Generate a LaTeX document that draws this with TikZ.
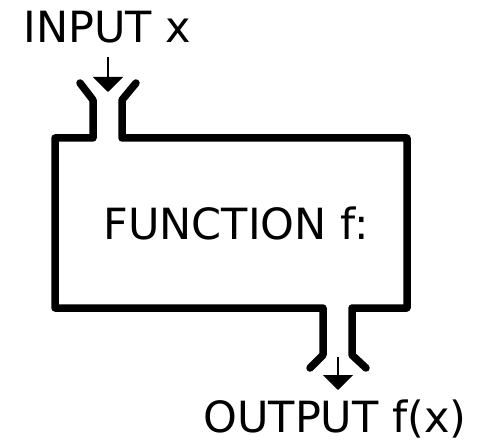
\documentclass[tikz,border=0pt]{standalone}
\usepackage{fontspec}
\setmainfont{DejaVu Sans}
\usetikzlibrary{arrows.meta}
\begin{document}
\begin{tikzpicture}[x=1pt,y=-1pt,
  wall/.style={line width=7.5pt,line cap=round,line join=round},
  flow/.style={line width=2pt,-{Triangle[width=30pt,length=15pt]}},
  lbl/.style={anchor=base,inner sep=0pt,font=\fontsize{43}{50}\selectfont}]
\useasboundingbox (0,0) rectangle (477,441);
\fill[white] (0,0) rectangle (477,441);
% box with funnels
\draw[wall] (80,83) -- (93,100) -- (93,138) -- (55,138) -- (55,308) -- (323,308) -- (323,355) -- (310,368);
\draw[wall] (136,83) -- (122,100) -- (122,138) -- (407,138) -- (407,308) -- (352,308) -- (352,355) -- (366,368);
% labels
\node[lbl] (in) at (107.5,43) {INPUT x};
\node[lbl] (fn) at (236,240) {FUNCTION f:};
\node[lbl] (out) at (335,432) {OUTPUT f(x)};
% arrows
\coordinate (a1) at (108,57);
\coordinate (a2) at (108,92);
\coordinate (b1) at (338,357);
\coordinate (b2) at (338,390);
\draw[flow] (a1) -- (a2);
\draw[flow] (b1) -- (b2);
\end{tikzpicture}
\end{document}
